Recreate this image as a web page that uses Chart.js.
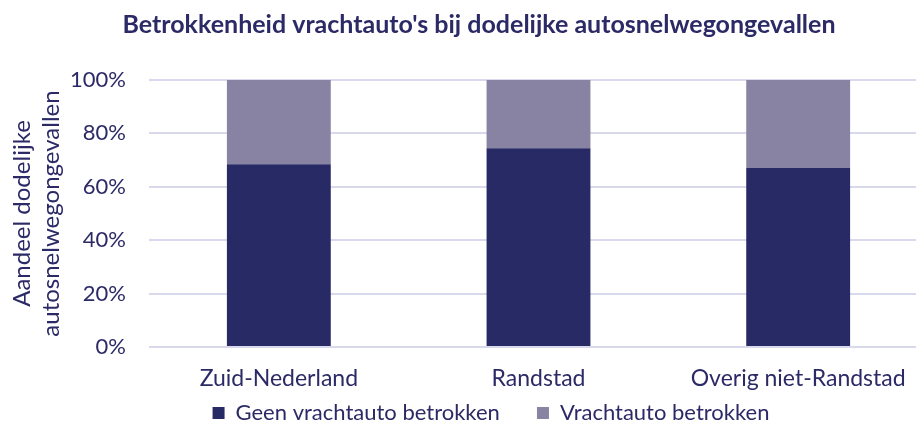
<!DOCTYPE html>
<html>
<head>
<meta charset="utf-8">
<script src="https://cdn.jsdelivr.net/npm/chart.js@4/dist/chart.umd.min.js"></script>
<style>
html,body{margin:0;padding:0;background:#fff;overflow:hidden;}
#wrap{width:916px;height:425px;position:relative;overflow:hidden;}
</style>
</head>
<body>
<div id="wrap"><canvas id="c" width="928" height="425"></canvas></div>
<script>
const categories = ["Zuid-Nederland", "Randstad", "Overig niet-Randstad"];
const geenVrachtauto = [68.4, 74.4, 67.1];
const welVrachtauto = [31.6, 25.6, 32.9];
const seriesNames = ["Geen vrachtauto betrokken", "Vrachtauto betrokken"];
const titleText = "Betrokkenheid vrachtauto's bij dodelijke autosnelwegongevallen";
const yAxisTitle = ["Aandeel dodelijke", "autosnelwegongevallen"];

const navy = "#2b2a66";
const font = "Lato, 'Open Sans', sans-serif";

const layoutTweaks = {
  id: "layoutTweaks",
  beforeLayout(chart) {
    const lg = chart.legend;
    if (lg && !lg._patched) {
      const f = lg.fit.bind(lg);
      lg.fit = function () { f(); this.height = 32; };
      lg._patched = true;
    }
  },
  afterLayout(chart) {
    if (chart.titleBlock) { chart.titleBlock.left += 13; chart.titleBlock.right += 13; }
    if (chart.legend) { chart.legend.left += 25; chart.legend.right += 25; }
  }
};

new Chart(document.getElementById("c"), {
  type: "bar",
  data: {
    labels: categories,
    datasets: [
      { label: seriesNames[0], data: geenVrachtauto, backgroundColor: "#282a66", borderWidth: 0 },
      { label: seriesNames[1], data: welVrachtauto, backgroundColor: "#8983a3", borderWidth: 0 }
    ]
  },
  plugins: [layoutTweaks],
  options: {
    responsive: false,
    animation: false,
    devicePixelRatio: 1,
    layout: { padding: { left: 4, right: 0, top: 10, bottom: 0 } },
    datasets: { bar: { categoryPercentage: 1, barPercentage: 0.40 } },
    plugins: {
      title: {
        display: true, text: titleText, color: navy,
        font: { family: font, size: 25, weight: "bold" },
        padding: { top: 0, bottom: 40 }
      },
      legend: {
        position: "bottom",
        labels: {
          color: navy, boxWidth: 12, boxHeight: 12, padding: 9,
          font: { family: font, size: 22 },
          generateLabels: chart => {
            const items = Chart.defaults.plugins.legend.labels.generateLabels(chart);
            items.forEach((it, i) => { if (i < items.length - 1) it.text = it.text + "     "; });
            return items;
          }
        }
      },
      tooltip: { enabled: false }
    },
    scales: {
      x: {
        stacked: true,
        afterFit: s => { s.height = 46; },
        grid: { display: false, drawTicks: false },
        border: { display: false },
        ticks: { color: navy, font: { family: font, size: 23 }, padding: 18, maxRotation: 0 }
      },
      y: {
        stacked: true,
        min: 0, max: 100,
        afterFit: s => { s.width = 145; },
        grid: { color: "#d9d9ee", lineWidth: 2, drawTicks: false },
        border: { display: false },
        ticks: {
          stepSize: 20, color: navy, padding: 23,
          font: { family: font, size: 22 },
          callback: v => v + "%"
        },
        title: {
          display: true, text: yAxisTitle, color: navy,
          font: { family: font, size: 24, lineHeight: 1.2 }, padding: { top: 4, bottom: 6 }
        }
      }
    }
  }
});
</script>
</body>
</html>
